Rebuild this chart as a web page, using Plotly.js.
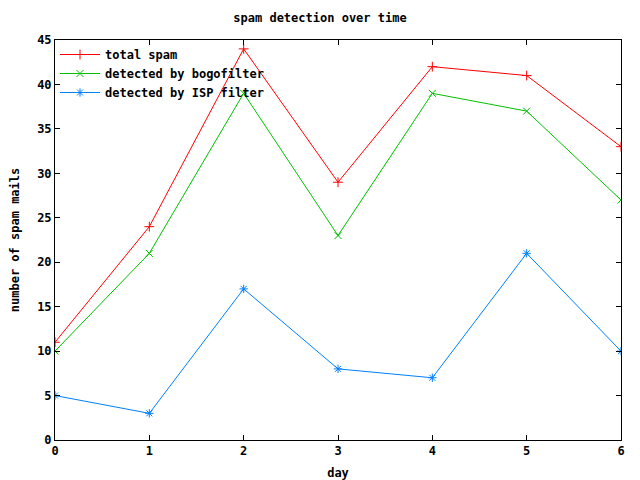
<!DOCTYPE html>
<html><head><meta charset="utf-8">
<script src="https://cdn.plot.ly/plotly-3.0.1.min.js"></script>
<style>body{margin:0}#c{width:640px;height:480px}</style>
</head><body><div id="c"></div>
<script>
const days = [0, 1, 2, 3, 4, 5, 6];
const totalSpam = [11, 24, 44, 29, 42, 41, 33];
const bogofilter = [10, 21, 39, 23, 39, 37, 27];
const ispFilter = [5, 3, 17, 8, 7, 21, 10];
const names = ["total spam", "detected by bogofilter", "detected by ISP filter"];
const F = "DejaVu Sans Mono, Liberation Mono, monospace";

function tr(y, name, color, sym) {
  return {x: days, y: y, name: name, type: "scatter", mode: "lines+markers",
    line: {color: color, width: 1},
    marker: {symbol: sym, size: 7, color: color, line: {color: color, width: 1}}};
}
const data = [
  tr(totalSpam, names[0], "#ff0000", "cross-thin"),
  tr(bogofilter, names[1], "#00c000", "x-thin"),
  tr(ispFilter, names[2], "#0080ff", "asterisk-open")
];
const ax = {showline: true, linecolor: "#000", linewidth: 1, mirror: "allticks",
  ticks: "inside", ticklen: 5, tickcolor: "#000", showgrid: false, zeroline: false,
  tickfont: {family: F, size: 12, color: "#000", weight: "bold"}};
const layout = {
  width: 640, height: 480,
  margin: {l: 55, r: 19, t: 40, b: 40},
  paper_bgcolor: "#fff", plot_bgcolor: "#fff",
  font: {family: F, size: 12, color: "#000"},
  title: {text: "spam detection over time", x: 0.5, xanchor: "center", y: 0.9625, yanchor: "middle",
    font: {family: F, size: 12, weight: "bold", color: "#000"}},
  xaxis: Object.assign({}, ax, {range: [0, 6], dtick: 1,
    title: {text: "day", standoff: 11, font: {family: F, size: 12, weight: "bold"}}}),
  yaxis: Object.assign({}, ax, {range: [0, 45], dtick: 5,
    title: {text: "number of spam mails", standoff: 14, font: {family: F, size: 12, weight: "bold"}}}),
  showlegend: true,
  legend: {x: 0.0, y: 1.0, xanchor: "left", yanchor: "top", bgcolor: "rgba(0,0,0,0)",
    borderwidth: 0, tracegroupgap: 0, itemwidth: 40,
    font: {family: F, size: 12, weight: "bold", color: "#000"}}
};
Plotly.newPlot("c", data, layout, {displayModeBar: false, staticPlot: true});
</script></body></html>
